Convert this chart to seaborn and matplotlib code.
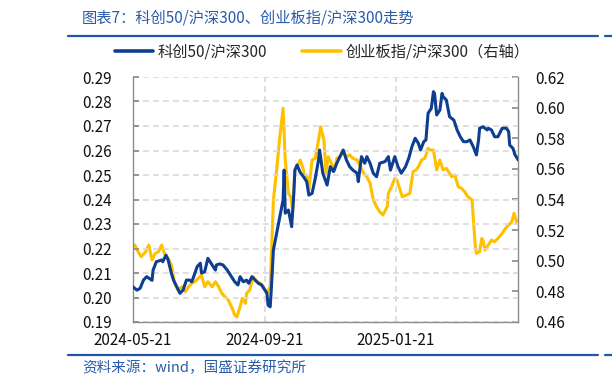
import matplotlib
matplotlib.use("Agg")
import matplotlib.pyplot as plt
import matplotlib.dates as mdates
from matplotlib.lines import Line2D
from matplotlib.ticker import FixedLocator, FormatStrFormatter
import numpy as np
import pandas as pd
import seaborn as sns

# ---------------- data ----------------
kc_dates = [
    '2024-05-21','2024-05-25','2024-05-28','2024-05-31','2024-06-03','2024-06-08','2024-06-09','2024-06-12','2024-06-17','2024-06-18',
    '2024-06-21','2024-06-23','2024-06-26','2024-06-28','2024-07-01','2024-07-04','2024-07-07','2024-07-10','2024-07-13','2024-07-15',
    '2024-07-18','2024-07-20','2024-07-23','2024-07-24','2024-07-27','2024-07-30','2024-08-03','2024-08-06','2024-08-07','2024-08-10',
    '2024-08-13','2024-08-17','2024-08-21','2024-08-24','2024-08-27','2024-08-29','2024-09-01','2024-09-04','2024-09-06','2024-09-09',
    '2024-09-12','2024-09-15','2024-09-18','2024-09-21','2024-09-23','2024-09-24','2024-09-26','2024-09-27','2024-09-29','2024-10-02',
    '2024-10-05','2024-10-08','2024-10-09','2024-10-10','2024-10-13','2024-10-16','2024-10-18','2024-10-19','2024-10-21','2024-10-24',
    '2024-10-27','2024-10-30','2024-11-01','2024-11-04','2024-11-07','2024-11-10','2024-11-11','2024-11-14','2024-11-18','2024-11-21',
    '2024-11-24','2024-11-27','2024-11-30','2024-12-03','2024-12-06','2024-12-09','2024-12-12','2024-12-16','2024-12-17','2024-12-20',
    '2024-12-23','2024-12-25','2024-12-28','2024-12-31','2025-01-03','2025-01-06','2025-01-11','2025-01-14','2025-01-16','2025-01-19',
    '2025-01-20','2025-01-23','2025-01-26','2025-01-30','2025-02-02','2025-02-05','2025-02-08','2025-02-11','2025-02-13','2025-02-16',
    '2025-02-18','2025-02-20','2025-02-23','2025-02-25','2025-02-26','2025-02-28','2025-03-03','2025-03-05','2025-03-06','2025-03-09',
    '2025-03-12','2025-03-16','2025-03-17','2025-03-19','2025-03-22','2025-03-25','2025-03-28','2025-03-31','2025-04-03','2025-04-06',
    '2025-04-08','2025-04-09','2025-04-12','2025-04-16','2025-04-17','2025-04-20','2025-04-23','2025-04-26','2025-04-30','2025-05-04',
    '2025-05-06','2025-05-07','2025-05-10','2025-05-12','2025-05-15']
kc_vals = [
    0.2044,0.2030,0.2038,0.2071,0.2085,0.2070,0.2112,0.2146,0.2153,0.2146,
    0.2173,0.2153,0.2099,0.2071,0.2044,0.2017,0.2031,0.2071,0.2071,0.2064,
    0.2100,0.2126,0.2140,0.2100,0.2105,0.2160,0.2133,0.2112,0.2133,0.2137,
    0.2133,0.2112,0.2085,0.2064,0.2051,0.2085,0.2064,0.2071,0.2058,0.2085,
    0.2071,0.2058,0.2051,0.2031,0.2017,0.1969,0.1962,0.2031,0.2194,0.2262,
    0.2330,0.2398,0.2520,0.2344,0.2357,0.2289,0.2425,0.2520,0.2541,0.2510,
    0.2493,0.2473,0.2418,0.2425,0.2487,0.2561,0.2602,0.2507,0.2459,0.2534,
    0.2514,0.2548,0.2575,0.2602,0.2561,0.2534,0.2520,0.2507,0.2473,0.2575,
    0.2548,0.2575,0.2548,0.2507,0.2493,0.2548,0.2555,0.2575,0.2520,0.2561,
    0.2575,0.2534,0.2507,0.2534,0.2568,0.2616,0.2650,0.2629,0.2602,0.2636,
    0.2643,0.2752,0.2772,0.2840,0.2833,0.2745,0.2765,0.2833,0.2820,0.2806,
    0.2738,0.2724,0.2711,0.2684,0.2656,0.2636,0.2636,0.2643,0.2616,0.2582,
    0.2643,0.2691,0.2697,0.2684,0.2691,0.2684,0.2656,0.2656,0.2691,0.2691,
    0.2677,0.2622,0.2609,0.2582,0.2561]

cyb_dates = [
    '2024-05-21','2024-05-23','2024-05-26','2024-05-29','2024-06-02','2024-06-05','2024-06-08','2024-06-11','2024-06-14','2024-06-17',
    '2024-06-20','2024-06-23','2024-06-26','2024-06-29','2024-07-02','2024-07-06','2024-07-09','2024-07-12','2024-07-15','2024-07-18',
    '2024-07-21','2024-07-24','2024-07-27','2024-07-30','2024-08-03','2024-08-06','2024-08-09','2024-08-12','2024-08-15','2024-08-18',
    '2024-08-21','2024-08-24','2024-08-26','2024-08-29','2024-08-31','2024-09-03','2024-09-04','2024-09-07','2024-09-10','2024-09-14',
    '2024-09-17','2024-09-20','2024-09-23','2024-09-26','2024-09-29','2024-10-02','2024-10-05','2024-10-08','2024-10-10','2024-10-13',
    '2024-10-15','2024-10-17','2024-10-19','2024-10-21','2024-10-24','2024-10-27','2024-10-28','2024-10-30','2024-11-01','2024-11-04',
    '2024-11-07','2024-11-10','2024-11-12','2024-11-15','2024-11-17','2024-11-19','2024-11-22','2024-11-25','2024-11-27','2024-11-30',
    '2024-12-02','2024-12-03','2024-12-06','2024-12-09','2024-12-12','2024-12-16','2024-12-19','2024-12-22','2024-12-25','2024-12-28',
    '2024-12-31','2025-01-03','2025-01-06','2025-01-09','2025-01-13','2025-01-14','2025-01-17','2025-01-20','2025-01-22','2025-01-25',
    '2025-01-27','2025-01-31','2025-02-03','2025-02-06','2025-02-09','2025-02-11','2025-02-14','2025-02-17','2025-02-20','2025-02-22',
    '2025-02-25','2025-02-28','2025-03-03','2025-03-06','2025-03-09','2025-03-14','2025-03-17','2025-03-20','2025-03-23','2025-03-26',
    '2025-03-29','2025-04-02','2025-04-03','2025-04-05','2025-04-06','2025-04-09','2025-04-11','2025-04-12','2025-04-14','2025-04-17',
    '2025-04-20','2025-04-23','2025-04-26','2025-04-30','2025-05-03','2025-05-06','2025-05-09','2025-05-11','2025-05-14','2025-05-15']
cyb_vals = [
    0.5092,0.5103,0.5059,0.5026,0.5059,0.5103,0.5005,0.5048,0.5059,0.5103,
    0.5037,0.5016,0.4972,0.4853,0.4809,0.4830,0.4798,0.4830,0.4853,0.4863,
    0.4885,0.4907,0.4830,0.4863,0.4830,0.4863,0.4830,0.4787,0.4765,0.4743,
    0.4700,0.4645,0.4634,0.4700,0.4755,0.4722,0.4787,0.4809,0.4896,0.4863,
    0.4853,0.4830,0.4787,0.4830,0.5397,0.5593,0.5810,0.5996,0.5658,0.5440,
    0.5418,0.5331,0.5593,0.5614,0.5658,0.5593,0.5549,0.5560,0.5462,0.5658,
    0.5669,0.5789,0.5875,0.5789,0.5571,0.5680,0.5636,0.5593,0.5669,0.5680,
    0.5712,0.5701,0.5680,0.5691,0.5669,0.5658,0.5614,0.5571,0.5549,0.5506,
    0.5397,0.5353,0.5320,0.5299,0.5353,0.5440,0.5484,0.5538,0.5527,0.5462,
    0.5418,0.5429,0.5440,0.5582,0.5593,0.5614,0.5658,0.5669,0.5734,0.5723,
    0.5723,0.5593,0.5658,0.5593,0.5604,0.5549,0.5560,0.5484,0.5473,0.5451,
    0.5418,0.5397,0.5288,0.5092,0.5048,0.5059,0.5146,0.5135,0.5070,0.5103,
    0.5135,0.5124,0.5146,0.5179,0.5212,0.5233,0.5255,0.5310,0.5244,0.5244]

series_names = ['科创50/沪深300', '创业板指/沪深300（右轴）']
x_tick_labels = ['2024-05-21', '2024-09-21', '2025-01-21']
x_range = ['2024-05-21', '2025-05-15']
left_ticks = [0.19, 0.20, 0.21, 0.22, 0.23, 0.24, 0.25, 0.26, 0.27, 0.28, 0.29]
right_ticks = [0.46, 0.48, 0.50, 0.52, 0.54, 0.56, 0.58, 0.60, 0.62]
title_text = '图表7：科创50/沪深300、创业板指/沪深300走势'
source_text = '资料来源：wind，国盛证券研究所'

# ---------------- style ----------------
sns.set_theme(style='white')
plt.rcParams['font.family'] = ['Noto Sans CJK SC', 'DejaVu Sans']
plt.rcParams['axes.unicode_minus'] = False

BLUE = '#0D3E90'
YELLOW = '#FFC000'
HEAD = '#2A5CAA'
RULE = '#1F56A8'
GRID = '#D9D9D9'
SPINE = '#8C8C8C'

W, H = 612, 387
fig = plt.figure(figsize=(W / 100, H / 100), dpi=100)
x0, x1, y0, y1 = 132.7, 518.3, 77, 322
ax = fig.add_axes([x0 / W, 1 - y1 / H, (x1 - x0) / W, (y1 - y0) / H])
ax2 = ax.twinx()

df_kc = pd.DataFrame({'date': pd.to_datetime(kc_dates), 'value': kc_vals})
df_cyb = pd.DataFrame({'date': pd.to_datetime(cyb_dates), 'value': cyb_vals})

sns.lineplot(data=df_kc, x='date', y='value', ax=ax, color=BLUE, lw=2.2, zorder=4, legend=False)
sns.lineplot(data=df_cyb, x='date', y='value', ax=ax2, color=YELLOW, lw=2.2, zorder=3, legend=False)
# put the blue (left axis) line above the yellow one
ax.set_zorder(ax2.get_zorder() + 1)
ax.patch.set_visible(False)

ax.set_xlim(pd.to_datetime(x_range[0]), pd.to_datetime(x_range[1]))
ax.set_ylim(left_ticks[0], left_ticks[-1])
ax2.set_ylim(right_ticks[0], right_ticks[-1])

ax.xaxis.set_major_locator(FixedLocator(mdates.date2num(pd.to_datetime(x_tick_labels))))
ax.xaxis.set_major_formatter(mdates.DateFormatter('%Y-%m-%d'))
ax.set_yticks(left_ticks)
ax.yaxis.set_major_formatter(FormatStrFormatter('%.2f'))
ax2.set_yticks(right_ticks)
ax2.yaxis.set_major_formatter(FormatStrFormatter('%.2f'))

ax.set_xlabel('')
ax.set_ylabel('')
ax2.set_ylabel('')

dash = (0, (3.5, 2.5))
ax.grid(True, axis='both', color=GRID, linestyle=dash, linewidth=1.2)
ax2.grid(False)

for a in (ax, ax2):
    for s in a.spines.values():
        s.set_color(SPINE)
        s.set_linewidth(1.0)
    a.spines['top'].set_visible(False)
ax.spines['right'].set_visible(False)
ax2.spines['left'].set_visible(False)
ax2.spines['bottom'].set_visible(False)

ax.tick_params(axis='y', direction='in', length=4, color=SPINE, labelsize=11, pad=15, labelcolor='#111111')
ax.tick_params(axis='x', direction='in', length=4, color=SPINE, labelsize=11, pad=7, labelcolor='#111111')
ax2.tick_params(axis='y', direction='in', length=4, color=SPINE, labelsize=11, pad=12, labelcolor='#111111')

# legend
handles = [Line2D([], [], color=BLUE, lw=2.6), Line2D([], [], color=YELLOW, lw=2.6)]
fig.legend(handles, series_names, loc='center left', bbox_to_anchor=(115 / W, 1 - 52 / H),
           ncol=2, frameon=False, borderpad=0, borderaxespad=0, handlelength=2.5,
           handletextpad=0.3, columnspacing=2.3, prop={'size': 11})

# title, rules, source
fig.text(82 / W, 1 - 18 / H, title_text, ha='left', va='center', fontsize=11,
         color=HEAD, style='italic')
for yy in (36, 355):
    fig.add_artist(Line2D([68 / W, 598 / W], [1 - yy / H] * 2, color=RULE, lw=1.6))
    fig.add_artist(Line2D([605 / W, 1.0], [1 - yy / H] * 2, color=RULE, lw=1.6))
fig.text(82 / W, 1 - 368 / H, source_text, ha='left', va='center', fontsize=10.5,
         color=HEAD, style='italic')

fig.savefig('out.png', dpi=100)
